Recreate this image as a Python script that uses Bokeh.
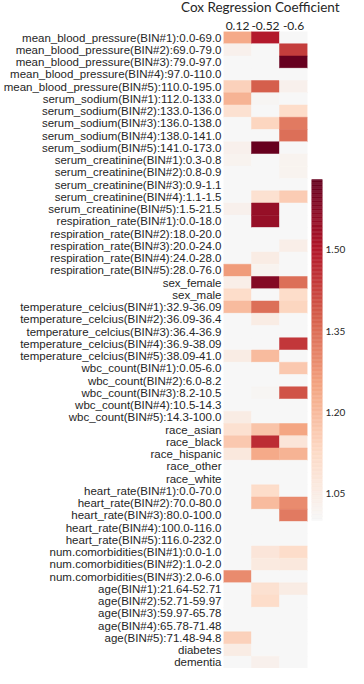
import numpy as np
from bokeh.plotting import figure
from bokeh.layouts import row, column
from bokeh.models import (ColumnDataSource, FactorRange, Range1d, LinearColorMapper,
                          FixedTicker, PrintfTickFormatter, Div)
from bokeh.transform import transform
from bokeh.embed import file_html
from bokeh.resources import INLINE

features = [
    "mean_blood_pressure(BIN#1):0.0-69.0",
    "mean_blood_pressure(BIN#2):69.0-79.0",
    "mean_blood_pressure(BIN#3):79.0-97.0",
    "mean_blood_pressure(BIN#4):97.0-110.0",
    "mean_blood_pressure(BIN#5):110.0-195.0",
    "serum_sodium(BIN#1):112.0-133.0",
    "serum_sodium(BIN#2):133.0-136.0",
    "serum_sodium(BIN#3):136.0-138.0",
    "serum_sodium(BIN#4):138.0-141.0",
    "serum_sodium(BIN#5):141.0-173.0",
    "serum_creatinine(BIN#1):0.3-0.8",
    "serum_creatinine(BIN#2):0.8-0.9",
    "serum_creatinine(BIN#3):0.9-1.1",
    "serum_creatinine(BIN#4):1.1-1.5",
    "serum_creatinine(BIN#5):1.5-21.5",
    "respiration_rate(BIN#1):0.0-18.0",
    "respiration_rate(BIN#2):18.0-20.0",
    "respiration_rate(BIN#3):20.0-24.0",
    "respiration_rate(BIN#4):24.0-28.0",
    "respiration_rate(BIN#5):28.0-76.0",
    "sex_female",
    "sex_male",
    "temperature_celcius(BIN#1):32.9-36.09",
    "temperature_celcius(BIN#2):36.09-36.4",
    "temperature_celcius(BIN#3):36.4-36.9",
    "temperature_celcius(BIN#4):36.9-38.09",
    "temperature_celcius(BIN#5):38.09-41.0",
    "wbc_count(BIN#1):0.05-6.0",
    "wbc_count(BIN#2):6.0-8.2",
    "wbc_count(BIN#3):8.2-10.5",
    "wbc_count(BIN#4):10.5-14.3",
    "wbc_count(BIN#5):14.3-100.0",
    "race_asian",
    "race_black",
    "race_hispanic",
    "race_other",
    "race_white",
    "heart_rate(BIN#1):0.0-70.0",
    "heart_rate(BIN#2):70.0-80.0",
    "heart_rate(BIN#3):80.0-100.0",
    "heart_rate(BIN#4):100.0-116.0",
    "heart_rate(BIN#5):116.0-232.0",
    "num.comorbidities(BIN#1):0.0-1.0",
    "num.comorbidities(BIN#2):1.0-2.0",
    "num.comorbidities(BIN#3):2.0-6.0",
    "age(BIN#1):21.64-52.71",
    "age(BIN#2):52.71-59.97",
    "age(BIN#3):59.97-65.78",
    "age(BIN#4):65.78-71.48",
    "age(BIN#5):71.48-94.8",
    "diabetes",
    "dementia",
]

columns = ["0.12", "-0.52", "-0.6"]

values_012 = [1.24, 1.03, 1.00, 1.00, 1.15, 1.22, 1.10, 1.00, 1.00, 1.03,
              1.02, 1.00, 1.00, 1.00, 1.03, 1.00, 1.00, 1.00, 1.00, 1.27,
              1.04, 1.12, 1.20, 1.00, 1.00, 1.00, 1.05, 1.00, 1.00, 1.00,
              1.00, 1.05, 1.10, 1.17, 1.07, 1.00, 1.00, 1.00, 1.00, 1.00,
              1.00, 1.00, 1.00, 1.00, 1.30, 1.00, 1.00, 1.00, 1.00, 1.15,
              1.05, 1.00]

values_052 = [1.50, 1.00, 1.00, 1.00, 1.38, 1.01, 1.00, 1.14, 1.00, 1.63,
              1.00, 1.00, 1.00, 1.10, 1.55, 1.55, 1.00, 1.00, 1.05, 1.02,
              1.58, 1.00, 1.35, 1.05, 1.00, 1.00, 1.20, 1.00, 1.00, 1.01,
              1.00, 1.00, 1.18, 1.47, 1.24, 1.00, 1.00, 1.12, 1.20, 1.00,
              1.00, 1.00, 1.08, 1.06, 1.00, 1.10, 1.12, 1.00, 1.00, 1.00,
              1.00, 1.03]

values_06 = [1.00, 1.44, 1.63, 1.00, 1.03, 1.00, 1.12, 1.33, 1.35, 1.00,
             1.02, 1.02, 1.00, 1.16, 1.00, 1.00, 1.00, 1.04, 1.00, 1.00,
             1.35, 1.12, 1.14, 1.00, 1.00, 1.45, 1.00, 1.17, 1.00, 1.40,
             1.00, 1.00, 1.25, 1.08, 1.22, 1.00, 1.00, 1.00, 1.30, 1.33,
             1.00, 1.00, 1.12, 1.07, 1.00, 1.05, 1.00, 1.00, 1.00, 1.00,
             1.00, 1.00]

cbar_low, cbar_high = 1.0, 1.63
cbar_ticks = [1.05, 1.20, 1.35, 1.50]

# palette: upper half of RdBu_r, interpolated
anchors = ["#f7f7f7", "#fddbc7", "#f4a582", "#d6604d", "#b2182b", "#67001f"]


def hex2rgb(h):
    h = h.lstrip("#")
    return tuple(int(h[i:i + 2], 16) for i in (0, 2, 4))


palette = []
n = 256
for i in range(n):
    t = i / (n - 1) * (len(anchors) - 1)
    k = min(int(t), len(anchors) - 2)
    f = t - k
    a, b = hex2rgb(anchors[k]), hex2rgb(anchors[k + 1])
    c = tuple(round(a[j] + (b[j] - a[j]) * f) for j in range(3))
    palette.append("#%02x%02x%02x" % c)

mapper = LinearColorMapper(palette=palette, low=cbar_low, high=cbar_high)

xs, ys, vs = [], [], []
for col, vals in zip(columns, [values_012, values_052, values_06]):
    for feat, v in zip(features, vals):
        xs.append(col)
        ys.append(feat)
        vs.append(v)
source = ColumnDataSource(dict(col=xs, row=ys, val=vs))

TXT = "#262626"
FIG_H = 654

title = Div(text="Cox Regression Coefficient", width=348, height=14,
            margin=(0, 0, 0, 0),
            styles={"font-family": "Lato", "font-size": "13.5px", "color": TXT,
                    "padding-left": "181px", "box-sizing": "border-box",
                    "white-space": "nowrap", "line-height": "14px",
                    "overflow": "visible"})

p = figure(width=311, height=FIG_H, output_backend="svg", toolbar_location=None,
           x_range=FactorRange(factors=columns, range_padding=0),
           y_range=FactorRange(factors=list(reversed(features)), range_padding=0),
           x_axis_location="above", min_border_left=221, min_border_right=4,
           min_border_top=17, min_border_bottom=0)

p.rect(x="col", y="row", width=1, height=1, source=source,
       fill_color=transform("val", mapper), line_color=transform("val", mapper),
       line_width=0.5)

p.outline_line_color = None
p.xgrid.grid_line_color = None
p.ygrid.grid_line_color = None

for ax in (p.xaxis[0], p.yaxis[0]):
    ax.axis_line_color = None
    ax.major_tick_line_color = None
    ax.minor_tick_line_color = None
    ax.major_tick_out = 0
    ax.major_tick_in = 0

p.yaxis.major_label_text_font = "Liberation Sans"
p.yaxis.major_label_text_font_size = "11.5px"
p.yaxis.major_label_text_color = TXT
p.yaxis.major_label_standoff = 2

p.xaxis.major_label_text_font = "Lato"
p.xaxis.major_label_text_font_size = "12px"
p.xaxis.major_label_text_color = TXT
p.xaxis.major_label_standoff = 2

# colour bar as its own small figure, its frame aligned with the heatmap's
frame_h = FIG_H - 17
bar_px = 341
pad = (frame_h - bar_px) / 2 * (cbar_high - cbar_low) / bar_px
levels = np.linspace(cbar_low, cbar_high, len(palette) + 1)
cb_src = ColumnDataSource(dict(bottom=levels[:-1], top=levels[1:], color=palette))

cb = figure(width=37, height=FIG_H, output_backend="svg", toolbar_location=None,
            x_range=Range1d(0, 1),
            y_range=Range1d(cbar_low - pad, cbar_high + pad),
            x_axis_location=None, y_axis_location="right",
            min_border_left=0, min_border_right=22,
            min_border_top=17, min_border_bottom=0)
cb.quad(left=0, right=1, bottom="bottom", top="top", fill_color="color",
        line_color="color", line_width=0.5, source=cb_src)
cb.outline_line_color = None
cb.xgrid.grid_line_color = None
cb.ygrid.grid_line_color = None
cb.yaxis.ticker = FixedTicker(ticks=cbar_ticks)
cb.yaxis.formatter = PrintfTickFormatter(format="%.2f")
cb.yaxis.axis_line_color = None
cb.yaxis.major_tick_line_color = None
cb.yaxis.minor_tick_line_color = None
cb.yaxis.major_tick_out = 0
cb.yaxis.major_tick_in = 0
cb.yaxis.major_label_standoff = 3
cb.yaxis.major_label_text_font = "Lato"
cb.yaxis.major_label_text_font_size = "10px"
cb.yaxis.major_label_text_color = TXT

layout = column(title, row(p, cb))

open("out.html", "w").write(file_html(layout, INLINE))
